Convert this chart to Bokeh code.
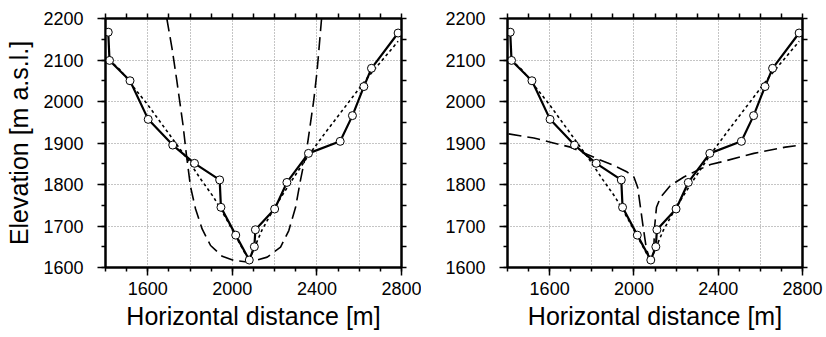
from bokeh.plotting import figure
from bokeh.layouts import row
from bokeh.models import FixedTicker, LinearAxis, Range1d
from bokeh.embed import file_html
from bokeh.resources import INLINE

# Measured cross-section (circles, solid line)
dist = [1413, 1419, 1516, 1602, 1718, 1821, 1940, 1946, 2016, 2080,
        2104, 2109, 2200, 2258, 2360, 2510, 2568, 2622, 2658, 2784]
elev = [2167, 2099, 2050, 1957, 1895, 1851, 1811, 1745, 1678, 1618,
        1650, 1691, 1741, 1805, 1875, 1904, 1966, 2036, 2080, 2165]

# Fitted profile (short-dash line, both panels)
fit_x = [1418, 1471, 1534, 1597, 1660, 1723, 1786, 1849, 1912, 1976, 2023, 2078,
         2140, 2200, 2275, 2360, 2440, 2530, 2640, 2784]
fit_y = [2100, 2075, 2034, 1994, 1950, 1906, 1862, 1814, 1769, 1713, 1669, 1617,
         1690, 1745, 1805, 1870, 1925, 1985, 2058, 2145]

# Left panel model (long-dash line)
left_model_x = [1690, 1715, 1736, 1767, 1783, 1802, 1826, 1857, 1897, 1952, 2007, 2060,
                2110, 2165, 2228, 2267, 2299, 2322, 2351, 2385, 2401, 2422]
left_model_y = [2200, 2127, 2055, 1942, 1870, 1795, 1741, 1693, 1653, 1627, 1617, 1614,
                1617, 1625, 1649, 1689, 1745, 1810, 1882, 2003, 2075, 2200]

# Right panel model (long-dash line)
right_model_x = [1405, 1525, 1604, 1699, 1826, 1904, 1968, 2000, 2018, 2031, 2044, 2058,
                 2071, 2079, 2094, 2098, 2107, 2126, 2174, 2237, 2300, 2363, 2427, 2569,
                 2719, 2795]
right_model_y = [1922, 1912, 1902, 1890, 1862, 1846, 1830, 1818, 1793, 1745, 1697, 1649,
                 1625, 1618, 1641, 1697, 1745, 1769, 1798, 1818, 1834, 1848, 1856, 1875,
                 1890, 1895]

x_ticks = [1600, 2000, 2400, 2800]
x_minor = [1400, 1500, 1600, 1700, 1800, 1900, 2000, 2100, 2200, 2300, 2400, 2500,
           2600, 2700, 2800]
x_grid = [1600, 1800, 2000, 2200, 2400, 2600]
y_ticks = [1600, 1700, 1800, 1900, 2000, 2100, 2200]
y_minor = [1600, 1650, 1700, 1750, 1800, 1850, 1900, 1950, 2000, 2050, 2100, 2150, 2200]
y_grid = [1700, 1800, 1900, 2000, 2100]

FONT = "Liberation Sans"


def style_axis(ax):
    ax.axis_line_width = 2
    ax.axis_line_color = "black"
    ax.major_tick_out = 8
    ax.major_tick_in = 0
    ax.minor_tick_out = 4
    ax.minor_tick_in = 0
    ax.major_tick_line_width = 1.5
    ax.minor_tick_line_width = 1.5
    ax.major_tick_line_color = "black"
    ax.minor_tick_line_color = "black"
    ax.major_label_text_font = FONT
    ax.major_label_text_color = "black"
    ax.major_label_text_font_size = "18px"
    ax.axis_label_text_font = FONT
    ax.axis_label_text_font_size = "25px"
    ax.axis_label_text_font_style = "normal"
    ax.axis_label_text_color = "black"


def make_panel(mx, my, ylabel, width, bl, br):
    p = figure(width=width, height=337, output_backend="svg", toolbar_location=None,
               x_range=Range1d(1400, 2800), y_range=Range1d(1600, 2200),
               min_border_left=bl, min_border_right=br, min_border_top=18,
               min_border_bottom=70, x_axis_location=None, y_axis_location=None)
    p.outline_line_color = "black"
    p.outline_line_width = 2
    p.background_fill_color = "white"
    p.border_fill_color = "white"

    xt = FixedTicker(ticks=x_ticks, minor_ticks=x_minor)
    yt = FixedTicker(ticks=y_ticks, minor_ticks=y_minor)
    # frame ticks only (no labels) for the top and right sides
    xt_frame = FixedTicker(ticks=[], minor_ticks=x_minor)
    yt_frame = FixedTicker(ticks=[], minor_ticks=y_minor)

    bottom = LinearAxis(ticker=xt, axis_label="Horizontal distance [m]")
    style_axis(bottom)
    bottom.major_label_standoff = 6
    bottom.axis_label_standoff = 4
    p.add_layout(bottom, "below")

    top = LinearAxis(ticker=xt_frame)
    style_axis(top)
    top.minor_tick_out = 5
    p.add_layout(top, "above")

    left = LinearAxis(ticker=yt, axis_label=ylabel)
    style_axis(left)
    left.major_label_standoff = 14
    left.axis_label_standoff = 7
    p.add_layout(left, "left")

    right = LinearAxis(ticker=yt_frame)
    style_axis(right)
    right.minor_tick_out = 5
    p.add_layout(right, "right")

    p.xgrid.ticker = FixedTicker(ticks=x_grid)
    p.ygrid.ticker = FixedTicker(ticks=y_grid)
    for g in (p.xgrid, p.ygrid):
        g.grid_line_color = "#8a8a8a"
        g.grid_line_dash = "1 2"
        g.grid_line_width = 1

    p.line(mx, my, line_color="black", line_width=1.6, line_dash="13 6")
    p.line(fit_x, fit_y, line_color="black", line_width=1.6, line_dash="3 3")
    p.line(dist, elev, line_color="black", line_width=2.2)
    p.scatter(dist, elev, marker="circle", size=8, fill_color="white",
              line_color="black", line_width=1)
    return p


p1 = make_panel(left_model_x, left_model_y, "Elevation [m a.s.l.]", 421, 105, 20)
p2 = make_panel(right_model_x, right_model_y, None, 405, 86, 24)
p = row(p1, p2)

open("out.html", "w").write(file_html(p, INLINE))
